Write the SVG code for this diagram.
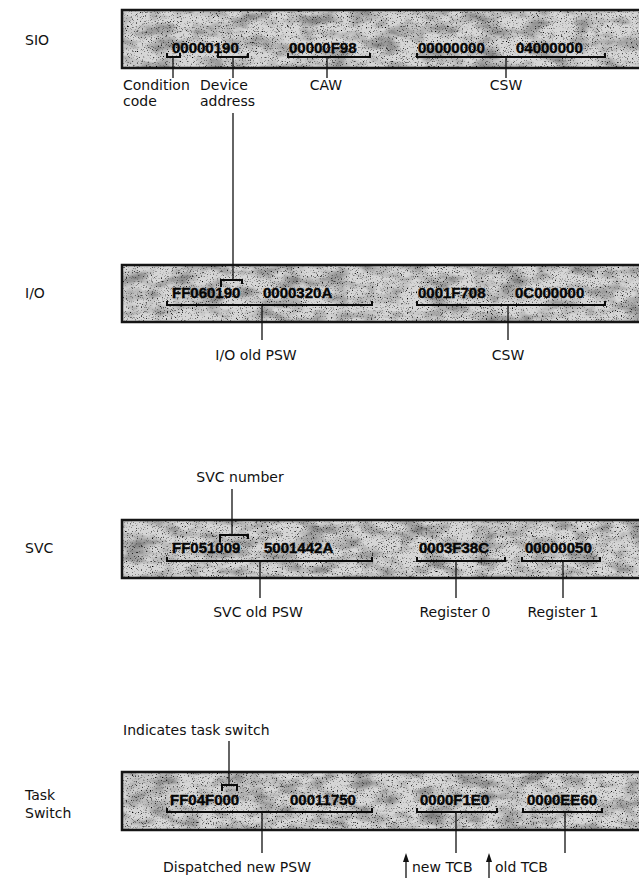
<svg xmlns="http://www.w3.org/2000/svg" width="639" height="888" viewBox="0 0 639 888">
<style>
.lbl{font-family:"DejaVu Sans","Liberation Sans",sans-serif;font-size:14px;fill:#111}
.val{font-family:"Liberation Sans","DejaVu Sans",sans-serif;font-size:15px;font-weight:bold;fill:#050505;stroke:#050505;stroke-width:0.4}
.bar{fill:#d6d6d6;stroke:#151515;stroke-width:2.5}
.spk{fill:#000}
.pat{fill:#555}
.br{fill:none;stroke:#0a0a0a;stroke-width:2}
.ln{fill:none;stroke:#111;stroke-width:1.3}
.ah{fill:#111}
</style>
<defs>
<filter id="speckle" x="0" y="0" width="100%" height="100%">
<feTurbulence type="fractalNoise" baseFrequency="0.8" numOctaves="2" seed="7" result="n"/>
<feColorMatrix in="n" type="matrix" values="0 0 0 0 0  0 0 0 0 0  0 0 0 0 0  4 0 0 0 -2.35"/>
<feComposite operator="in" in2="SourceGraphic"/>
</filter>
<filter id="patch" x="0" y="0" width="100%" height="100%">
<feTurbulence type="fractalNoise" baseFrequency="0.04 0.08" numOctaves="3" seed="3" result="n"/>
<feColorMatrix in="n" type="matrix" values="0 0 0 0 0  0 0 0 0 0  0 0 0 0 0  2.2 0 0 0 -0.9"/>
<feComposite operator="in" in2="SourceGraphic"/>
</filter>
</defs>

<!-- SIO -->
<g id="sio">
<text class="lbl" x="25" y="45">SIO</text>
<rect class="bar" x="122" y="10" width="530" height="58"/>
<rect class="pat" x="123" y="11" width="520" height="56" filter="url(#patch)" opacity="0.4"/>
<rect class="spk" x="123" y="11" width="520" height="56" filter="url(#speckle)"/>
<text class="val" x="172" y="53">00000190</text>
<text class="val" x="289" y="53">00000F98</text>
<text class="val" x="418" y="53">00000000</text>
<text class="val" x="516" y="53">04000000</text>
<path class="br" d="M167,53V57H180V53 M218,53V57H248V53 M288,53V57H370V53 M417,53V57H605V53"/>
</g>
<g id="sio-labels">
<text class="lbl" x="123" y="90">Condition</text>
<text class="lbl" x="123" y="106">code</text>
<text class="lbl" x="200" y="90">Device</text>
<text class="lbl" x="200" y="106">address</text>
<text class="lbl" x="326" y="90" text-anchor="middle">CAW</text>
<text class="lbl" x="506" y="90" text-anchor="middle">CSW</text>
</g>

<!-- I/O -->
<g id="io">
<text class="lbl" x="25" y="298">I/O</text>
<rect class="bar" x="122" y="265" width="530" height="57"/>
<rect class="pat" x="123" y="266" width="520" height="55" filter="url(#patch)" opacity="0.4"/>
<rect class="spk" x="123" y="266" width="520" height="55" filter="url(#speckle)"/>
<text class="val" x="172" y="298">FF060190</text>
<text class="val" x="263" y="298">0000320A</text>
<text class="val" x="418" y="298">0001F708</text>
<text class="val" x="515" y="298">0C000000</text>
<path class="br" d="M221,287V280H242V284 M167,301V305H372V301 M417,301V305H605V301"/>
</g>
<g id="io-labels">
<text class="lbl" x="256" y="360" text-anchor="middle">I/O old PSW</text>
<text class="lbl" x="508" y="360" text-anchor="middle">CSW</text>
</g>

<!-- SVC -->
<g id="svc">
<text class="lbl" x="240" y="482" text-anchor="middle">SVC number</text>
<text class="lbl" x="25" y="553">SVC</text>
<rect class="bar" x="122" y="520" width="530" height="58"/>
<rect class="pat" x="123" y="521" width="520" height="56" filter="url(#patch)" opacity="0.4"/>
<rect class="spk" x="123" y="521" width="520" height="56" filter="url(#speckle)"/>
<text class="val" x="172" y="553">FF051009</text>
<text class="val" x="264" y="553">5001442A</text>
<text class="val" x="419" y="553">0003F38C</text>
<text class="val" x="525" y="553">00000050</text>
<path class="br" d="M220,542V535H248V539 M167,557V561H372V557 M417,557V561H505V557 M522,557V561H600V557"/>
</g>
<g id="svc-labels">
<text class="lbl" x="258" y="617" text-anchor="middle">SVC old PSW</text>
<text class="lbl" x="455" y="617" text-anchor="middle">Register 0</text>
<text class="lbl" x="563" y="617" text-anchor="middle">Register 1</text>
</g>

<!-- Task Switch -->
<g id="task">
<text class="lbl" x="123" y="735">Indicates task switch</text>
<text class="lbl" x="25" y="800">Task</text>
<text class="lbl" x="25" y="818">Switch</text>
<rect class="bar" x="122" y="772" width="530" height="58"/>
<rect class="pat" x="123" y="773" width="520" height="56" filter="url(#patch)" opacity="0.4"/>
<rect class="spk" x="123" y="773" width="520" height="56" filter="url(#speckle)"/>
<text class="val" x="170" y="805">FF04F000</text>
<text class="val" x="290" y="805">00011750</text>
<text class="val" x="420" y="805">0000F1E0</text>
<text class="val" x="527" y="805">0000EE60</text>
<path class="br" d="M222,791V785H237V791 M167,808V812H372V808 M417,808V812H497V808 M523,808V812H602V808"/>
</g>
<g id="task-labels">
<text class="lbl" x="163" y="872">Dispatched new PSW</text>
<text class="lbl" x="412" y="872">new TCB</text>
<text class="lbl" x="495" y="872">old TCB</text>
</g>

<g id="connectors">
<path class="ln" d="M173,57V78 M233,57V78 M327,57V78 M506,57V78"/>
<path class="ln" d="M233,113V280"/>
<path class="ln" d="M262,305V340 M508,305V340"/>
<path class="ln" d="M232,489V535"/>
<path class="ln" d="M260,561V598 M456,561V598 M563,561V598"/>
<path class="ln" d="M229,741V785"/>
<path class="ln" d="M262,812V853 M456,812V853 M565,812V853"/>
<path class="ln" d="M406,878V860 M489,878V860"/>
<polygon class="ah" points="403,862 406,853 409,862"/>
<polygon class="ah" points="486,862 489,853 492,862"/>
</g>
</svg>
